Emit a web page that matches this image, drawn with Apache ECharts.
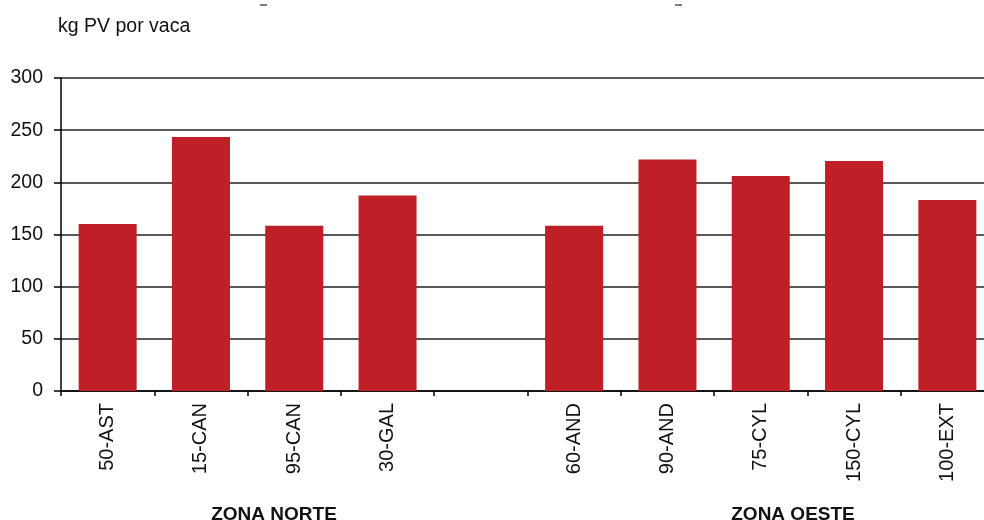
<!DOCTYPE html>
<html>
<head>
<meta charset="utf-8">
<script src="https://cdn.jsdelivr.net/npm/echarts@6/dist/echarts.min.js"></script>
<style>
html,body{margin:0;padding:0;background:#fff;overflow:hidden;width:984px;height:520px;}
#chart{width:994px;height:520px;}
</style>
</head>
<body>
<div id="chart"></div>
<script>
var categories = ['50-AST', '15-CAN', '95-CAN', '30-GAL', '', '60-AND', '90-AND', '75-CYL', '150-CYL', '100-EXT'];
var values = [160, 243.5, 158.5, 187.5, '-', 158.5, 222, 206, 220.5, 183];
var yTicks = { min: 0, max: 300, interval: 50 };
var yTitle = 'kg PV por vaca';
var groupNames = ['ZONA NORTE', 'ZONA OESTE'];

var FONT = 'Liberation Sans, Arial, Helvetica, sans-serif';
var chart = echarts.init(document.getElementById('chart'), null, { renderer: 'canvas' });
chart.setOption({
  animation: false,
  backgroundColor: '#ffffff',
  grid: { left: 61, top: 78, right: 0, height: 313, containLabel: false },
  xAxis: {
    type: 'category',
    data: categories,
    axisLine: { show: true, lineStyle: { color: '#000', width: 1.5 } },
    axisTick: { show: true, alignWithLabel: false, length: 5, lineStyle: { color: '#000', width: 1.5 } },
    axisLabel: { rotate: 90, margin: 12, color: '#111', fontFamily: FONT, fontSize: 20, interval: 0 },
    splitLine: { show: false }
  },
  yAxis: {
    type: 'value',
    min: yTicks.min, max: yTicks.max, interval: yTicks.interval,
    axisLine: { show: true, lineStyle: { color: '#000', width: 1.5 } },
    axisTick: { show: true, length: 7, lineStyle: { color: '#000', width: 1.5 } },
    axisLabel: { margin: 18, color: '#111', fontFamily: FONT, fontSize: 19.5 },
    splitLine: { show: true, lineStyle: { color: '#222', width: 1.5 } }
  },
  series: [{
    type: 'bar',
    data: values,
    barWidth: 58,
    itemStyle: { color: '#BF1F26' }
  }],
  graphic: [
    { type: 'text', left: 58, top: 17, style: { text: yTitle, fontFamily: FONT, fontSize: 19.5, fill: '#111' } },
    { type: 'text', x: 274, y: 505, style: { text: groupNames[0], fontFamily: FONT, fontSize: 19, fontWeight: 'bold', fill: '#111', align: 'center' } },
    { type: 'text', x: 793, y: 505, style: { text: groupNames[1], fontFamily: FONT, fontSize: 19, fontWeight: 'bold', fill: '#111', align: 'center' } },
    { type: 'line', shape: { x1: 260, y1: 5, x2: 267, y2: 5 }, style: { stroke: '#555', lineWidth: 1.5 } },
    { type: 'line', shape: { x1: 675, y1: 5, x2: 682, y2: 5 }, style: { stroke: '#555', lineWidth: 1.5 } }
  ]
});
</script>
</body>
</html>
